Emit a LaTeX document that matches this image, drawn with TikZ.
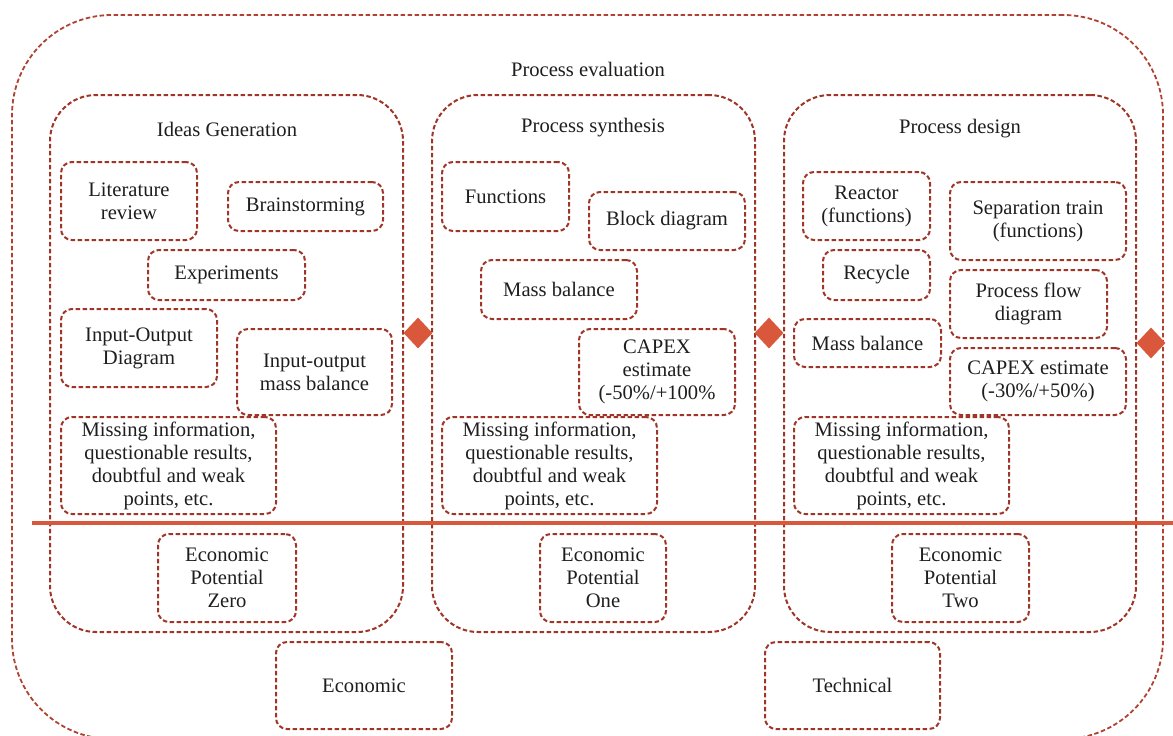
\documentclass[tikz,border=0pt]{standalone}
\usepackage{fontspec}
\setmainfont{Liberation Serif}
\usetikzlibrary{shapes.geometric,arrows.meta}
\definecolor{dred}{HTML}{9E3526}
\definecolor{outred}{HTML}{B04232}
\definecolor{ored}{HTML}{D9583C}
\definecolor{txt}{HTML}{1E1E1E}
\newcommand\bx[6]{\node[box, minimum width={(#4)-(#2)}, minimum height={(#5)-(#3)}] (#1) at ({(#2+#4)/2},{(#3+#5)/2}) {#6};}
\newcommand\phs[5]{\node[phase, minimum width={(#4)-(#2)}, minimum height={(#5)-(#3)}] (#1) at ({(#2+#4)/2},{(#3+#5)/2}) {};}
\begin{document}
\begin{tikzpicture}[x=1pt,y=-1pt,
  box/.style={draw=dred, dash pattern=on 4.5pt off 2.5pt, line width=2pt, rounded corners=11pt,
    inner sep=0pt, outer sep=0pt, align=center, font=\fontsize{20.6}{23}\selectfont, text=txt},
  phase/.style={draw=dred, dash pattern=on 4.5pt off 2.5pt, line width=2pt, rounded corners=46pt,
    inner sep=0pt, outer sep=0pt},
  outerbox/.style={draw=outred, dash pattern=on 4.5pt off 2.5pt, line width=1.8pt, rounded corners=100pt,
    inner sep=0pt, outer sep=0pt},
  title/.style={font=\fontsize{20.6}{23}\selectfont, text=txt, inner sep=0pt},
  mark diamond/.style={diamond, fill=ored, draw=none, minimum width=29pt, minimum height=31pt, inner sep=0pt},
  axis line/.style={draw=ored, line width=3.2pt}
]
\useasboundingbox (0,0) rectangle (1173,736);
% outer container
\node[outerbox, minimum width=1151pt, minimum height=724pt] (outer) at (587.5,377) {};
\node[title] (peval) at (588,69) {Process evaluation};
% phases
\phs{pIG}{50}{95}{403}{632}
\phs{pPS}{432}{95}{755}{632}
\phs{pPD}{784}{95}{1136}{632}
\node[title] (tIG) at (227,129) {Ideas Generation};
\node[title] (tPS) at (593,128) {Process synthesis};
\node[title] (tPD) at (960,129) {Process design};
% horizontal line
\coordinate (lineL) at (32,523);
\coordinate (lineR) at (1186,523);
\draw[axis line, -{Stealth[length=10pt,width=12pt]}] (lineL) -- (lineR);
% diamonds
\node[mark diamond] (d1) at (418,333) {};
\node[mark diamond] (d2) at (769,333) {};
\node[mark diamond] (d3) at (1151,343) {};
% Ideas generation
\bx{lit}{61}{162}{197}{240}{Literature\\review}
\bx{brain}{228}{182}{383}{231}{Brainstorming}
\bx{exp}{148}{250}{305}{300}{Experiments}
\bx{iod}{61}{309}{217}{387}{Input-Output\\Diagram}
\bx{iomb}{237}{329}{392}{415}{Input-output\\mass balance}
\bx{missA}{61}{417}{276}{514}{Missing information,\\questionable results,\\doubtful and weak\\points, etc.}
\bx{epZ}{158}{534}{296}{622}{Economic\\Potential\\Zero}
\bx{econ}{276}{642}{452}{729}{Economic}
% Process synthesis
\bx{func}{442}{162}{569}{231}{Functions}
\bx{block}{589}{192}{745}{250}{Block diagram}
\bx{mbA}{481}{260}{637}{319}{Mass balance}
\bx{capA}{579}{329}{735}{415}{CAPEX\\estimate\\(-50\%/+100\%}
\bx{missB}{442}{417}{657}{514}{Missing information,\\questionable results,\\doubtful and weak\\points, etc.}
\bx{epO}{540}{534}{666}{622}{Economic\\Potential\\One}
\bx{tech}{765}{642}{940}{729}{Technical}
% Process design
\bx{react}{803}{172}{930}{240}{Reactor\\(functions)}
\bx{sep}{950}{182}{1126}{260}{Separation train\\(functions)}
\bx{rec}{823}{250}{930}{300}{Recycle}
\bx{pfd}{950}{270}{1107}{338}{Process flow\\diagram}
\bx{mbB}{794}{319}{941}{367}{Mass balance}
\bx{capB}{950}{348}{1126}{415}{CAPEX estimate\\(-30\%/+50\%)}
\bx{missC}{794}{417}{1009}{514}{Missing information,\\questionable results,\\doubtful and weak\\points, etc.}
\bx{epT}{892}{534}{1029}{622}{Economic\\Potential\\Two}
\end{tikzpicture}
\end{document}
